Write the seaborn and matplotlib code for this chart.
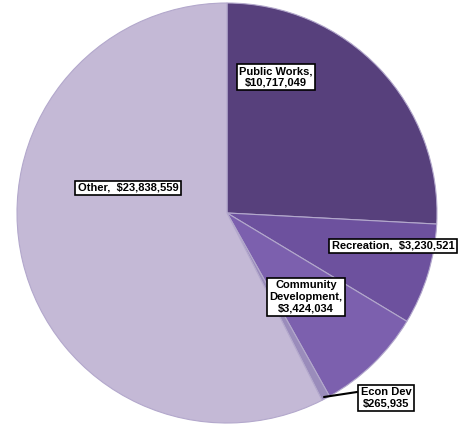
import matplotlib
matplotlib.use("Agg")
import matplotlib.pyplot as plt
import seaborn as sns

categories = ["Public Works", "Recreation", "Community Development", "Econ Dev", "Other"]
values = [10717049, 3230521, 3424034, 265935, 23838559]
label_texts = ["Public Works,\n$10,717,049", "Recreation,  $3,230,521",
               "Community\nDevelopment,\n$3,424,034", "Econ Dev\n$265,935",
               "Other,  $23,838,559"]
colors = ["#57407c", "#6d519e", "#7c60ae", "#9a8cbb", "#c4b9d6"]

sns.set_theme(style="white")
plt.rcParams['font.family'] = ['Liberation Sans', 'DejaVu Sans']

W, H = 476, 430
fig = plt.figure(figsize=(W / 100, H / 100), dpi=100)
cx, cy, r = 227, 213, 210
ax = fig.add_axes([(cx - r) / W, (H - cy - r) / H, 2 * r / W, 2 * r / H])

ax.pie(values, colors=colors, startangle=90, counterclock=False, radius=1,
       wedgeprops=dict(edgecolor="#b3a8cc", linewidth=0.8))
ax.set_xlim(-1, 1)
ax.set_ylim(-1, 1)
ax.set_aspect("equal")
ax.axis("off")

def px(x, y):
    return (x - cx) / r, (cy - y) / r

pos = [(276, 77), (393, 246), (306, 297), (386, 398), (128, 188)]
for (x, y), t in zip(pos, label_texts):
    ax.text(*px(x, y), t, ha="center", va="center", fontsize=8, fontweight="bold",
            color="black", linespacing=1.2,
            bbox=dict(boxstyle="square,pad=0.2", fc="white", ec="black", lw=1.2))

# leader line for Econ Dev
ax.plot(*zip(px(324, 397), px(357, 392)), color="black", lw=1.5)

fig.savefig("out.png", dpi=100, facecolor="white")
